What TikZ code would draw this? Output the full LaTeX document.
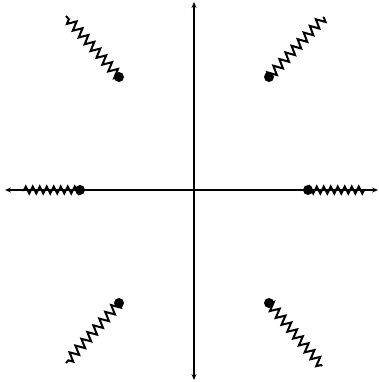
\documentclass[tikz,border=0pt]{standalone}
\usetikzlibrary{arrows.meta,decorations.pathmorphing}
\begin{document}
\begin{tikzpicture}[x=1pt,y=-1pt,
  axis/.style={line width=1.5pt,{Stealth[length=6pt,width=5pt]}-{Stealth[length=6pt,width=5pt]}},
  dot/.style={circle,fill=black,inner sep=0pt,minimum size=10pt},
  cut/.style={line width=2pt,line join=miter,decorate,decoration={zigzag,segment length=7pt,amplitude=3.5pt}},
  dcut/.style={line width=2pt,line join=miter,decorate,decoration={zigzag,segment length=9pt,amplitude=4.5pt}}]
\useasboundingbox (0,0) rectangle (379,382);
\coordinate (W) at (5,190);
\coordinate (E) at (378,190);
\coordinate (N) at (194,2);
\coordinate (S) at (194,380);
\draw[axis] (W) -- (E);
\draw[axis] (N) -- (S);
\node[dot] (d1) at (80,190) {};
\node[dot] (d2) at (308,190) {};
\node[dot] (d3) at (119,77) {};
\node[dot] (d4) at (269,77) {};
\node[dot] (d5) at (119,303) {};
\node[dot] (d6) at (269,303) {};
\coordinate (e1) at (22,190);
\coordinate (e2) at (365,190);
\coordinate (e3) at (66,16);
\coordinate (e4) at (324,17);
\coordinate (e5) at (66,363);
\coordinate (e6) at (322,366);
\draw[cut] (d1.center) -- (e1);
\draw[cut] (d2.center) -- (e2);
\draw[dcut] (d3.center) -- (e3);
\draw[dcut] (d4.center) -- (e4);
\draw[dcut] (d5.center) -- (e5);
\draw[dcut] (d6.center) -- (e6);
\end{tikzpicture}
\end{document}
